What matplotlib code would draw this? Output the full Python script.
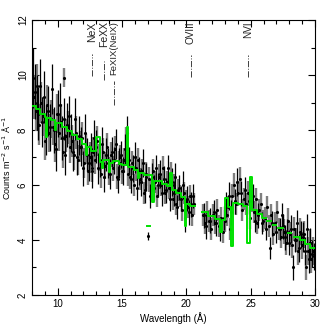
import numpy as np
import matplotlib
matplotlib.use("Agg")
import matplotlib.pyplot as plt

plt.rcParams['font.family'] = ['Liberation Sans', 'DejaVu Sans']

nan = np.nan

# ---- black spectrum (bin centres from 8.05 A, 0.15 A bins) ----
black_start, bin_width = 8.05, 0.15
black_vals = [
    9.9, 9.4, 9.0, 8.6, 9.6, 8.3, 9.2, 8.0, 8.7, 8.1,
    9.5, 8.0, 7.3, 8.6, 8.9, 7.7, 8.4, 7.1, 8.2, 8.5,
    7.9, 7.2, 8.4, 7.0, 7.8, 7.4, 6.6, 7.9, 7.1, 6.8,
    7.3, 6.5, 7.7, 7.4, 6.6, 6.9, 7.5, 6.3, 7.1, 6.8,
    6.4, 7.2, 6.9, 7.5, 6.2, 6.8, 7.1, 6.5, 7.3, 7.9,
    6.9, 6.2, 6.6, 7.0, 5.9, 6.5, 6.1, 6.8, 5.8, 6.3,
    4.15, 5.6, 6.3, 5.9, 6.6, 6.0, 6.4, 5.7, 6.2, 5.8,
    6.6, 5.5, 6.1, 5.7, 6.3, 5.2, 5.9, 5.5, 6.0, 4.8,
    5.5, 5.0, 5.3, 5.6, nan, nan, nan, nan, nan, 4.9,
    4.5, nan, 4.7, nan, 5.0, 4.6, nan, 4.4, nan, 4.8,
    5.3, nan, 5.6, 5.0, nan, 5.4, 6.1, nan, 5.7, nan,
    5.8, nan, 5.4, nan, 5.6, 4.7, nan, 4.9, nan, 4.6,
    nan, 4.4, nan, 3.7, 4.6, nan, 4.3, nan, 4.4, 4.9,
    4.5, 4.1, 4.3, 3.9, 4.4, 3.0, 4.0, 4.6, 3.7, 4.2,
    4.1, 3.6, 4.4, 3.3, 3.9, 3.5, 3.4,
]
black_errs = [
    1.1, 1.0, 1.0, 0.95, 1.0, 0.9, 0.95, 0.9, 0.9, 0.85,
    0.9, 0.85, 0.8, 0.85, 0.8, 0.8, 0.75, 0.75, 0.8, 0.75,
    0.7, 0.7, 0.75, 0.65, 0.7, 0.7, 0.65, 0.7, 0.6, 0.65,
    0.6, 0.6, 0.65, 0.6, 0.55, 0.6, 0.6, 0.55, 0.6, 0.55,
    0.55, 0.55, 0.5, 0.55, 0.5, 0.55, 0.5, 0.5, 0.55, 0.6,
    0.5, 0.5, 0.5, 0.55, 0.45, 0.5, 0.5, 0.5, 0.45, 0.5,
    0.15, 0.45, 0.5, 0.45, 0.5, 0.45, 0.5, 0.45, 0.5, 0.45,
    0.5, 0.45, 0.5, 0.45, 0.5, 0.45, 0.45, 0.45, 0.5, 0.5,
    0.45, 0.45, 0.45, 0.45, 0.4, 0.4, 0.4, 0.4, 0.4, 0.45,
    0.45, 0.45, 0.45, 0.4, 0.45, 0.45, 0.4, 0.45, 0.4, 0.45,
    0.45, 0.45, 0.5, 0.45, 0.5, 0.45, 0.5, 0.45, 0.45, 0.45,
    0.5, 0.45, 0.45, 0.45, 0.45, 0.4, 0.45, 0.45, 0.45, 0.4,
    0.45, 0.4, 0.45, 0.4, 0.45, 0.45, 0.4, 0.45, 0.4, 0.45,
    0.45, 0.45, 0.45, 0.45, 0.5, 0.45, 0.45, 0.5, 0.5, 0.5,
    0.55, 0.5, 0.55, 0.5, 0.55, 0.5, 0.5,
]

# ---- grey spectrum (bin centres from 8.125 A, 0.15 A bins) ----
grey_start = 8.125
grey_vals = [
    9.2, 8.7, 9.6, 8.2, 9.0, 8.5, 7.6, 8.9, 7.9, 8.4,
    8.1, 7.5, 8.6, 7.9, 8.3, 7.2, 9.9, 7.8, 8.1, 7.4,
    7.6, 7.1, 7.9, 6.9, 7.4, 7.7, 6.8, 7.3, 6.5, 7.0,
    6.6, 7.2, 6.9, 7.6, 7.0, 6.4, 7.2, 6.7, 7.4, 6.5,
    7.1, 6.6, 7.3, 6.3, 6.8, 7.0, 6.5, 6.9, 7.6, 6.4,
    6.3, 6.8, 6.0, 6.6, 6.9, 6.2, 6.5, 5.7, 6.4, nan,
    6.2, 5.8, 6.5, 6.1, 5.6, 6.3, 6.0, 6.6, 5.7, 6.1,
    5.9, 6.4, 5.5, 6.0, 5.3, 5.8, 5.6, 5.1, 5.7, 5.4,
    5.2, 5.6, 4.9, 5.3, nan, nan, nan, nan, 4.9, 4.6,
    5.0, 4.7, 4.4, 4.9, 4.6, 5.1, 4.5, 4.8, 4.3, 4.7,
    4.9, 5.2, 4.4, 5.6, 6.0, 5.3, 5.7, 6.2, 5.1, 5.5,
    5.3, 5.7, 4.8, 5.4, 5.0, 5.5, 4.6, 5.1, 5.3, 4.7,
    4.8, 5.2, 4.5, 4.9, 4.2, 4.6, 5.0, 4.4, 4.1, 4.5,
    4.3, 3.9, 4.7, 4.2, 3.8, 4.4, 4.0, 3.6, 4.3, 3.8,
    4.2, 3.0, 3.6, 3.9, 3.3, 3.6,
]
grey_errs = [
    0.8, 0.75, 0.8, 0.75, 0.75, 0.7, 0.7, 0.75, 0.7, 0.7,
    0.65, 0.65, 0.7, 0.65, 0.65, 0.6, 0.35, 0.6, 0.6, 0.6,
    0.6, 0.55, 0.6, 0.55, 0.55, 0.6, 0.55, 0.55, 0.5, 0.55,
    0.5, 0.55, 0.5, 0.55, 0.5, 0.5, 0.5, 0.5, 0.5, 0.5,
    0.45, 0.45, 0.5, 0.45, 0.45, 0.45, 0.45, 0.45, 0.5, 0.45,
    0.45, 0.45, 0.4, 0.45, 0.45, 0.4, 0.45, 0.4, 0.45, 0.4,
    0.45, 0.4, 0.45, 0.4, 0.4, 0.45, 0.4, 0.45, 0.4, 0.4,
    0.4, 0.45, 0.4, 0.4, 0.4, 0.4, 0.4, 0.4, 0.4, 0.4,
    0.4, 0.4, 0.4, 0.4, 0.4, 0.4, 0.4, 0.4, 0.4, 0.4,
    0.4, 0.4, 0.4, 0.4, 0.4, 0.4, 0.4, 0.4, 0.4, 0.4,
    0.4, 0.4, 0.4, 0.45, 0.45, 0.4, 0.45, 0.45, 0.4, 0.4,
    0.4, 0.45, 0.4, 0.4, 0.4, 0.4, 0.4, 0.4, 0.4, 0.4,
    0.4, 0.4, 0.4, 0.4, 0.4, 0.4, 0.4, 0.4, 0.4, 0.4,
    0.45, 0.45, 0.45, 0.45, 0.45, 0.45, 0.45, 0.5, 0.5, 0.5,
    0.5, 0.45, 0.5, 0.5, 0.5, 0.5,
]

# ---- green model: step edges and bin values ----
model_edges = [8.0, 8.3, 8.6, 9.0, 9.1, 9.2, 9.5, 9.8, 9.9, 10.3, 10.7, 11.1,
               11.5, 11.9, 12.2, 12.3, 12.6, 13.0, 13.3, 13.45, 13.55, 13.95,
               14.1, 14.3, 14.8, 15.0, 15.35, 15.45, 15.9, 16.25, 16.35, 16.7,
               17.3, 17.5, 17.8, 18.1, 18.5, 18.75, 18.85, 19.2, 19.55, 19.9,
               20.0, 20.3, 20.65, 21.25, 21.7, 22.2, 22.6, 22.8, 23.0, 23.25,
               23.45, 23.6, 24.0, 24.4, 24.7, 24.95, 25.08, 25.5, 25.9, 26.2,
               26.3, 26.6, 26.7, 27.0, 27.1, 27.5, 27.9, 28.15, 28.4, 28.8,
               29.2, 29.6, 30.0]
model_vals = [8.88, 8.75, 8.6, 8.48, 7.76, 8.45, 8.38, 8.0, 8.25, 8.12, 7.98,
              7.82, 7.66, 7.5, 7.1, 7.38, 7.22, 7.76, 6.85, 6.62, 6.9, 6.48,
              6.8, 6.88, 6.76, 6.72, 8.12, 6.66, 6.55, 6.24, 6.45, 6.38, 5.39,
              6.15, 6.15, 6.05, 5.95, 6.42, 5.82, 5.72, 5.55, 4.5, 5.32, 5.22,
              nan, 5.02, 4.88, 4.75, 4.3, 4.73, 5.52, 5.2, 3.78, 5.36, 5.3,
              5.22, 3.88, 6.3, 5.08, 4.95, 4.8, nan, 4.7, nan, 4.55, nan, 4.45,
              nan, 4.25, nan, 4.12, 4.0, 3.85, 3.72]
model_extra_x = [16.92, 17.17]
model_extra_y = [4.51, 4.51]

# ---- line identifications ----
line_names = ["NeX", "FeXX", "FeXIX(NeIX)", "OVIII", "NVI"]
line_waves = [12.67, 13.6, 14.38, 20.33, 24.82]
line_tops = [10.75, 10.5, 9.8, 10.73, 10.73]
line_bottoms = [9.95, 9.82, 8.9, 9.93, 9.93]
line_fs = [7.5, 7.5, 6.8, 7.2, 7.2]

fig = plt.figure(figsize=(3.27, 3.27), dpi=100)
ax = fig.add_axes([0.0979, 0.0979, 0.8654, 0.8409])

gx = grey_start + bin_width * np.arange(len(grey_vals))
bx = black_start + bin_width * np.arange(len(black_vals))

ax.errorbar(gx, grey_vals, yerr=grey_errs, fmt='.', color='black', ms=2.5,
            ecolor='#7f7f7f', elinewidth=1.7, capsize=0, zorder=2)
ax.errorbar(bx, black_vals, yerr=black_errs, fmt='.', color='black', ms=2.5,
            ecolor='black', elinewidth=0.9, capsize=0, zorder=3)

ax.step(model_edges, model_vals + [model_vals[-1]], where='post',
        color='#00e000', lw=1.4, zorder=4)
ax.plot(model_extra_x, model_extra_y, color='#00e000', lw=1.4, zorder=4)

for name, w, t, b, fs in zip(line_names, line_waves, line_tops, line_bottoms, line_fs):
    ax.plot([w, w], [b, t], color='#404040', lw=0.7, ls='-.', zorder=5)
    ax.text(w, 11.95, name, rotation=90, ha='center', va='top', fontsize=fs,
            color='#222222')

ax.set_xlim(8, 30)
ax.set_ylim(2, 12)
ax.set_xticks([10, 15, 20, 25, 30])
ax.set_xticks(np.arange(8, 31, 1), minor=True)
ax.set_yticks([2, 4, 6, 8, 10, 12])
ax.set_yticks([3, 5, 7, 9, 11], minor=True)
ax.tick_params(which='both', direction='in', top=True, right=True,
               labelsize=7, width=0.8, pad=3)
ax.tick_params(which='major', length=5)
ax.tick_params(which='minor', length=3)
for lab in ax.get_yticklabels():
    lab.set_rotation(90)
    lab.set_va('center')
for s in ax.spines.values():
    s.set_linewidth(0.8)

ax.set_xlabel("Wavelength (Å)", fontsize=7, labelpad=2)
ax.set_ylabel("Counts m$^{-2}$ s$^{-1}$ Å$^{-1}$", fontsize=6.5)
ax.yaxis.set_label_coords(-0.068, 0.5)

fig.savefig("out.png", dpi=100)
